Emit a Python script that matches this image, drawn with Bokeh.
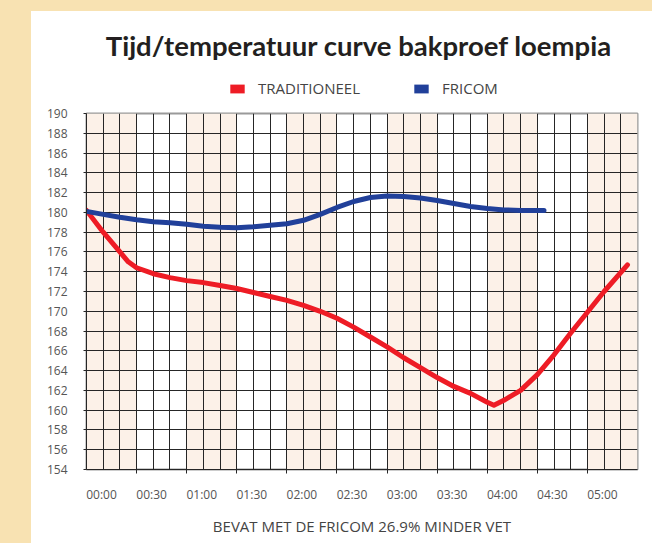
from bokeh.plotting import figure
from bokeh.layouts import column, row
from bokeh.models import (Range1d, FixedTicker, Legend, LegendItem, Spacer,
                          Label, GlobalInlineStyleSheet)
from bokeh.embed import file_html
from bokeh.resources import INLINE

# ---- data (minutes since start, temperature) ----
minutes_trad = [0, 10, 20, 25, 30, 40, 50, 60, 70, 80, 90, 100, 110, 120, 130,
                140, 150, 160, 170, 180, 190, 200, 210, 220, 230, 240, 244,
                250, 260, 270, 280, 290, 300, 310, 324]
temp_trad = [180.2, 178.0, 176.0, 175.0, 174.4, 173.8, 173.4, 173.1, 172.9,
             172.6, 172.3, 171.9, 171.5, 171.1, 170.6, 170.0, 169.3, 168.4,
             167.4, 166.4, 165.3, 164.3, 163.3, 162.4, 161.7, 160.8, 160.5,
             161.0, 162.0, 163.6, 165.6, 167.8, 169.9, 172.0, 174.7]

minutes_fricom = [0, 10, 20, 30, 40, 50, 60, 70, 80, 90, 100, 110, 120, 130,
                  140, 150, 160, 170, 180, 190, 200, 210, 220, 230, 240, 250,
                  260, 274]
temp_fricom = [180.1, 179.8, 179.5, 179.25, 179.05, 178.95, 178.8, 178.6,
               178.5, 178.45, 178.55, 178.7, 178.85, 179.2, 179.8, 180.5,
               181.1, 181.5, 181.65, 181.6, 181.45, 181.2, 180.9, 180.6,
               180.4, 180.25, 180.2, 180.2]

series_names = ["TRADITIONEEL", "FRICOM"]
title_text = "Tijd/temperatuur curve bakproef loempia"
x_title = "BEVAT MET DE FRICOM 26.9% MINDER VET"

time_labels = ["00:00", "00:30", "01:00", "01:30", "02:00", "02:30",
               "03:00", "03:30", "04:00", "04:30", "05:00"]
label_minutes = [0, 30, 60, 90, 120, 150, 180, 210, 240, 270, 300]
boundary_minutes = [30, 60, 90, 120, 150, 180, 210, 240, 270, 300]
grid_minutes = list(range(0, 331, 10))
y_ticks = list(range(154, 191, 2))
band_starts = [0, 60, 120, 180, 240, 300]
band_ends = [30, 90, 150, 210, 270, 330]

RED = "#ee1c25"
BLUE = "#21409a"
BAND = "#fcf1e8"
CREAM = "#f8e2b2"
GRID = "#262626"
FONT = "Open Sans"
W = 620
HDR_H = 93

PAGE_CSS = ("html, body{background-color:#ffffff;"
            "background-image:linear-gradient(to right, %s 31px, rgba(0,0,0,0) 31px),"
            "linear-gradient(to bottom, %s 11px, #ffffff 11px);"
            "background-repeat:no-repeat;background-size:2000px 2000px;"
            "background-position:0 0;}" % (CREAM, CREAM))

# ---------------- header: title + legend ----------------
hdr = figure(width=W, height=HDR_H, x_range=Range1d(0, 1), y_range=Range1d(0, 1),
             output_backend="svg", toolbar_location=None, title=None,
             x_axis_type=None, y_axis_type=None, min_border=0)
hdr.stylesheets = [GlobalInlineStyleSheet(css=PAGE_CSS)]
hdr.grid.visible = False
hdr.outline_line_color = None
hdr.border_fill_color = "white"
hdr.background_fill_color = "white"

hdr.add_layout(Label(x=272.5, y=59, x_units="screen", y_units="screen",
                     text=title_text, text_align="center",
                     text_baseline="alphabetic", text_font="Lato",
                     text_font_style="bold", text_font_size="27.5px",
                     text_color="#231f20"))

# zero-size swatch renderers, only used to give the legend its colour boxes
sw_red = hdr.quad(left=[0], right=[0], top=[0], bottom=[0],
                  fill_color=RED, line_color=None)
sw_blue = hdr.quad(left=[0], right=[0], top=[0], bottom=[0],
                   fill_color=BLUE, line_color=None)
legend = Legend(items=[LegendItem(label=series_names[0], renderers=[sw_red]),
                       LegendItem(label=series_names[1], renderers=[sw_blue])],
                orientation="horizontal", location=(142, 6),
                glyph_width=18, glyph_height=11, label_standoff=12,
                spacing=52, padding=0, margin=0,
                label_text_font=FONT, label_text_font_size="15px",
                label_text_color="#444444", border_line_color=None,
                background_fill_alpha=0)
hdr.add_layout(legend, "center")

# ---------------- main chart ----------------
p = figure(width=W, height=531 - HDR_H,
           x_range=Range1d(0, 330), y_range=Range1d(154, 190),
           output_backend="svg", toolbar_location=None, title=None,
           min_border_left=55, min_border_right=14,
           min_border_top=9, min_border_bottom=73)
p.border_fill_color = "white"
p.background_fill_color = "white"
p.outline_line_color = "#9a9a9a"
p.outline_line_width = 2

# shaded vertical bands
p.quad(left=band_starts, right=band_ends, bottom=154, top=190,
       fill_color=BAND, line_color=None, level="underlay")

# grid
p.xgrid.ticker = FixedTicker(ticks=grid_minutes)
p.ygrid.ticker = FixedTicker(ticks=y_ticks)
for g in (p.xgrid, p.ygrid):
    g.grid_line_color = GRID
    g.grid_line_width = 1
    g.level = "underlay"

# curves
p.line(minutes_trad, temp_trad, line_color=RED, line_width=5,
       line_cap="round", line_join="round")
p.line(minutes_fricom, temp_fricom, line_color=BLUE, line_width=5,
       line_cap="round", line_join="round")

# x axis: labels sit to the right of each half-hour boundary
label_pos = [m + 9 for m in label_minutes]
xa = p.xaxis[0]
xa.ticker = FixedTicker(ticks=label_pos, minor_ticks=boundary_minutes)
xa.major_label_overrides = {pos: lab for pos, lab in zip(label_pos, time_labels)}
xa.major_tick_out = 0
xa.major_tick_in = 0
xa.minor_tick_out = 4
xa.minor_tick_in = 0
xa.minor_tick_line_color = GRID
xa.axis_line_color = GRID
xa.major_label_standoff = 12
xa.major_label_text_font = FONT
xa.major_label_text_font_size = "12px"
xa.major_label_text_color = "#555555"
xa.axis_label = x_title
xa.axis_label_text_font = FONT
xa.axis_label_text_font_size = "15px"
xa.axis_label_text_font_style = "normal"
xa.axis_label_text_color = "#444444"
xa.axis_label_standoff = 10

ya = p.yaxis[0]
ya.ticker = FixedTicker(ticks=y_ticks)
ya.minor_tick_line_color = None
ya.major_tick_out = 3
ya.major_tick_in = 0
ya.major_tick_line_color = GRID
ya.axis_line_color = GRID
ya.major_label_standoff = 16
ya.major_label_text_font = FONT
ya.major_label_text_font_size = "12px"
ya.major_label_text_color = "#555555"

layout = column(Spacer(width=10, height=11),
                row(Spacer(width=31, height=10), column(hdr, p)))

open("out.html", "w").write(file_html(layout, INLINE))
